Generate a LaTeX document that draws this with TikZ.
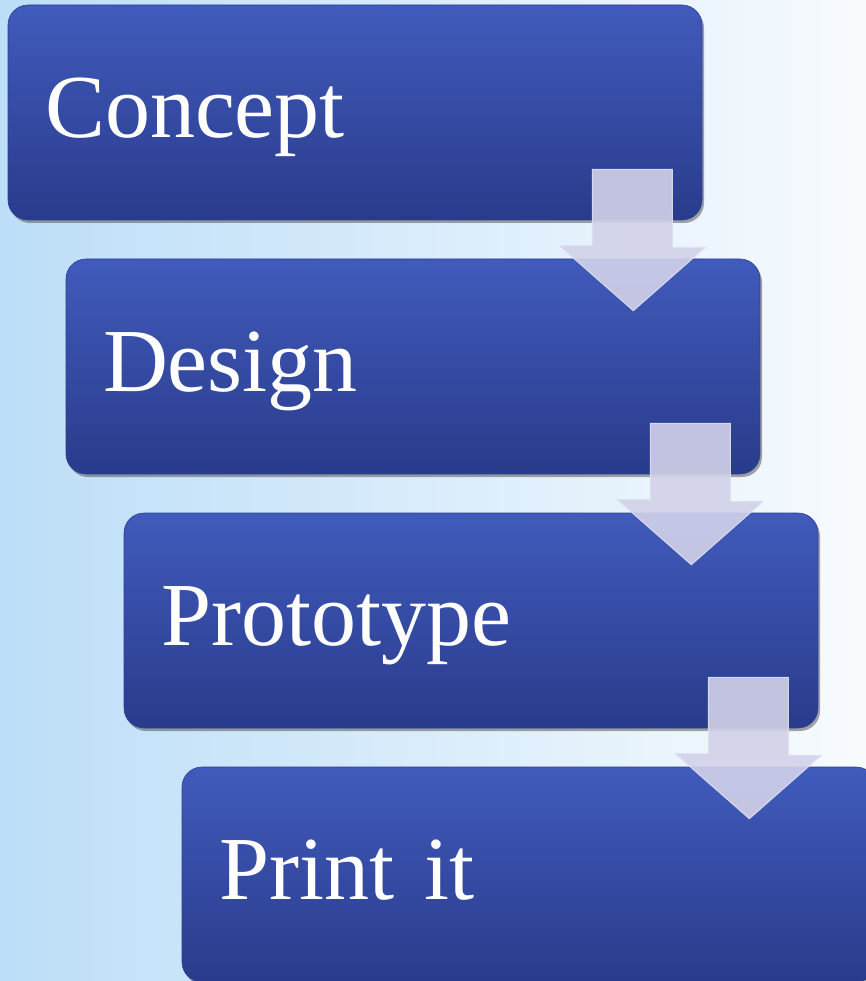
\documentclass[tikz,border=0pt]{standalone}
\usepackage{fontspec}
\setmainfont{Liberation Serif}
\usetikzlibrary{calc,shadows}

\begin{document}
\begin{tikzpicture}[x=1pt,y=1pt]

\definecolor{bg_left}{RGB}{188,222,248}
\definecolor{bg_right}{RGB}{248,251,254}
\definecolor{step_top}{RGB}{65,91,188}
\definecolor{step_bottom}{RGB}{41,59,139}
\definecolor{step_draw}{RGB}{45,64,148}
\definecolor{flow_fill}{RGB}{210,210,233}
\definecolor{flow_draw}{RGB}{222,224,242}
\tikzstyle{step_node_style}=[rectangle, rounded corners = 20, top color=step_top, bottom color=step_bottom, draw=step_draw, line width = 0.6pt, text=white, minimum width = 694, minimum height = 215, text width = 620, inner xsep = 37, align=left, text height = 50, text depth = 0, font=\fontsize{90}{100}\selectfont, drop shadow={shadow xshift=2pt, shadow yshift=-3pt, opacity=0.5, fill=black!70}]
\tikzstyle{flow_arrow_style}=[fill=flow_fill, fill opacity = 0.9, draw=flow_draw, draw opacity = 0.9, line width = 1pt, line join = miter]

% background
\useasboundingbox (0,0) rectangle (866,-981);
\shade[left color=bg_left, right color=bg_right] (0,0) rectangle (866,-981);

\node(concept) at (355,-112.5) [step_node_style] {Concept};

\node(design) at (413,-366.5) [step_node_style] {Design};

\node(prototype) at (471,-620.5) [step_node_style] {Prototype};

\node(printit) at (529,-874.5) [step_node_style] {Print it};

\draw[flow_arrow_style] ($(concept.south east)+(-110,51)$) -- ++(80,0) -- ++(0,-78) -- ++(33,0) -- ($(design.north east)+(-127,-52)$) -- ++(-74,65) -- ++(33,0) -- cycle;
\draw[flow_arrow_style] ($(design.south east)+(-110,51)$) -- ++(80,0) -- ++(0,-78) -- ++(33,0) -- ($(prototype.north east)+(-127,-52)$) -- ++(-74,65) -- ++(33,0) -- cycle;
\draw[flow_arrow_style] ($(prototype.south east)+(-110,51)$) -- ++(80,0) -- ++(0,-78) -- ++(33,0) -- ($(printit.north east)+(-127,-52)$) -- ++(-74,65) -- ++(33,0) -- cycle;

\end{tikzpicture}
\end{document}
